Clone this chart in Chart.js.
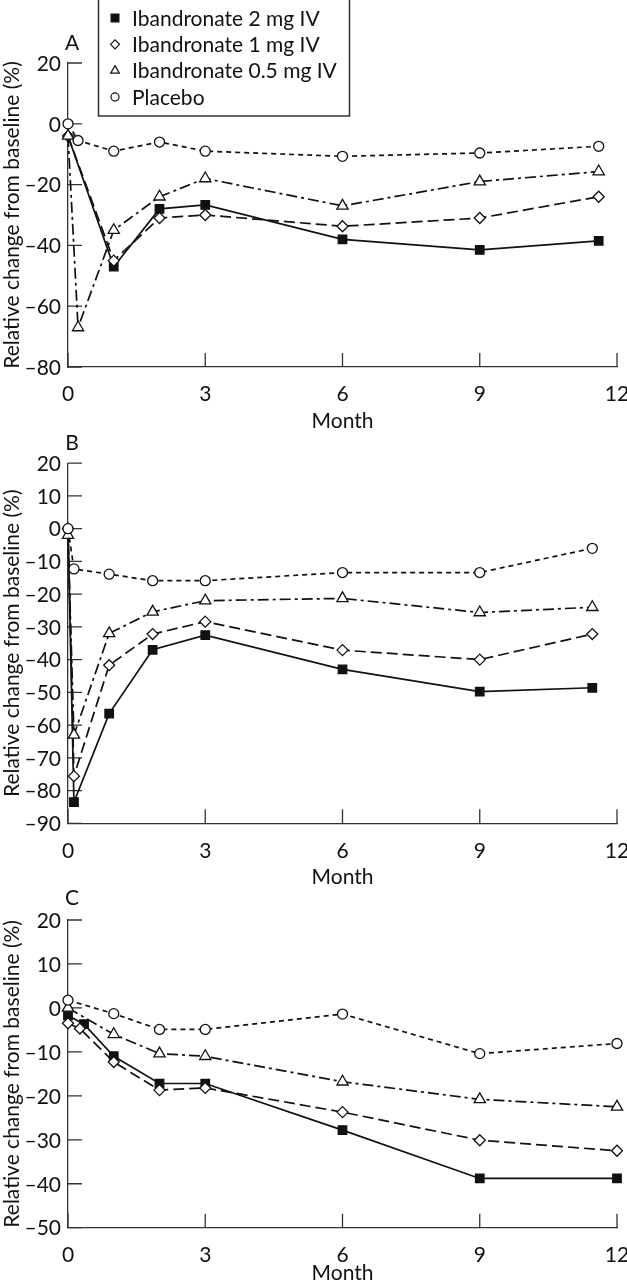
<!DOCTYPE html>
<html>
<head>
<meta charset="utf-8">
<script src="https://cdn.jsdelivr.net/npm/chart.js@4"></script>
<style>
html,body{margin:0;padding:0;background:#fff;overflow:hidden;width:627px;height:1280px;}
.panel{position:absolute;left:0;width:640px;}
</style>
</head>
<body>
<div class="panel" id="wrapA" style="top:0;height:440px"><canvas id="chartA"></canvas></div>
<div class="panel" id="wrapB" style="top:400px;height:490px"><canvas id="chartB"></canvas></div>
<div class="panel" id="wrapC" style="top:840px;height:450px"><canvas id="chartC"></canvas></div>
<script>
// ===== Data =====
const seriesNames=['Ibandronate 2 mg IV','Ibandronate 1 mg IV','Ibandronate 0.5 mg IV','Placebo'];

// Panel A
const monthsA2=[0,1,2,3,6,9,11.6];
const valuesA2=[-4,-47,-28,-26.7,-38,-41.5,-38.5];
const monthsA1=[0,1,2,3,6,9,11.6];
const valuesA1=[-4,-45,-31,-30,-33.7,-31,-24];
const monthsA05=[0,0.22,1,2,3,6,9,11.6];
const valuesA05=[-4,-67,-35,-24,-18,-27,-19,-15.7];
const monthsAP=[0,0.22,1,2,3,6,9,11.6];
const valuesAP=[0,-5.5,-9,-6,-9,-10.7,-9.6,-7.4];

// Panel B
const monthsB=[0,0.13,0.9,1.85,3,6,9,11.46];
const valuesB2=[0,-83.5,-56.5,-37,-32.5,-43,-49.8,-48.6];
const valuesB1=[0,-75.6,-41.7,-32.2,-28.4,-37.1,-40,-32.2];
const valuesB05=[-2,-63,-32,-25.4,-22,-21.3,-25.6,-24];
const valuesBP=[0,-12.3,-13.9,-15.9,-15.9,-13.4,-13.4,-6];

// Panel C
const monthsC2=[0,0.35,1,2,3,6,9,12];
const valuesC2=[-1.7,-3.7,-11,-17.2,-17.2,-27.8,-38.8,-38.8];
const monthsC1=[0,0.26,1,2,3,6,9,12];
const valuesC1=[-3.5,-4.7,-12.3,-18.7,-18.2,-23.7,-30.1,-32.5];
const monthsC05=[0,1,2,3,6,9,12];
const valuesC05=[0,-6,-10.4,-11,-16.8,-20.8,-22.5];
const monthsCP=[0,1,2,3,6,9,12];
const valuesCP=[1.75,-1.3,-4.9,-4.9,-1.4,-10.4,-8.1];

const xTicks=[0,3,6,9,12];

// ===== Styles =====
const INK='#111', AXIS='#333';
const FONT='Lato, "Noto Sans", sans-serif';
Chart.defaults.font.family=FONT;
Chart.defaults.font.size=21;
Chart.defaults.color='#111';

const styles=[
  {borderDash:[],pointStyle:'rect',r:6,fill:INK},
  {borderDash:[11,5],pointStyle:'rectRot',r:5.5,fill:'#fff'},
  {borderDash:[11,4,3,4],pointStyle:'triangle',r:6.5,fill:'#fff'},
  {borderDash:[5,4],pointStyle:'circle',r:5,fill:'#fff'}
];

function pts(xs,ys){return xs.map((x,i)=>({x:x,y:ys[i]}));}

function ds(i,xs,ys,hideFirst){
  const s=styles[i];
  return {
    label:seriesNames[i],
    data:pts(xs,ys),
    borderColor:INK,borderWidth:1.7,borderDash:s.borderDash,
    pointStyle:s.pointStyle,
    pointRadius:xs.map((x,k)=>(hideFirst&&k===0)?0:s.r),
    pointBackgroundColor:s.fill,pointBorderColor:INK,pointBorderWidth:1.3,
    tension:0,clip:false,order:i===0?4:3-i
  };
}

// ===== Plugins =====
// inward tick marks + y tick labels (drawn from the y scale's own ticks)
const inwardTicks={
  id:'inwardTicks',
  beforeDatasetsDraw(chart){
    const {ctx,chartArea:a,scales:{x,y}}=chart;
    ctx.save();ctx.strokeStyle=AXIS;ctx.lineWidth=1.3;ctx.setLineDash([]);ctx.beginPath();
    y.ticks.forEach(t=>{const py=y.getPixelForValue(t.value);ctx.moveTo(a.left,py);ctx.lineTo(a.left+14,py);});
    x.ticks.forEach(t=>{const px=x.getPixelForValue(t.value);ctx.moveTo(px,a.bottom);ctx.lineTo(px,a.bottom-14);});
    ctx.stroke();
    ctx.fillStyle='#111';ctx.font='21px '+FONT;ctx.textAlign='right';ctx.textBaseline='middle';
    y.ticks.forEach(t=>{
      const py=y.getPixelForValue(t.value);
      const txt=t.value<0?'\u2013'+Math.abs(t.value):String(t.value);
      ctx.fillText(txt,a.left-7,py+1);
    });
    ctx.restore();
  }
};

const panelLabel={
  id:'panelLabel',
  afterDraw(chart,args,opts){
    const {ctx,chartArea:a}=chart;
    ctx.save();ctx.font='21px '+FONT;ctx.fillStyle='#111';
    ctx.textAlign='center';ctx.textBaseline='middle';
    ctx.fillText(opts.text,a.left+4,a.top-opts.dy);
    ctx.restore();
  }
};

const boxLegend={
  id:'boxLegend',
  afterDraw(chart,args,opts){
    if(!opts.show) return;
    const ctx=chart.ctx;
    ctx.save();
    ctx.fillStyle='#fff';ctx.fillRect(98,-1,252,117);
    ctx.strokeStyle=AXIS;ctx.lineWidth=1.5;ctx.strokeRect(98.5,-1,251,117);
    const legR=[5.5,4.5,5,4];
    chart.data.datasets.forEach((d,i)=>{
      const yy=18+i*26.3;
      ctx.fillStyle=styles[i].fill;ctx.strokeStyle=INK;ctx.lineWidth=1.2;ctx.setLineDash([]);
      Chart.helpers.drawPoint(ctx,{pointStyle:styles[i].pointStyle,radius:legR[i],rotation:0,borderWidth:1.2},115,yy);
      ctx.fillStyle='#111';ctx.font='21px '+FONT;
      ctx.textAlign='left';ctx.textBaseline='middle';
      ctx.fillText(d.label,132,yy+1);
    });
    ctx.restore();
  }
};

function makeChart(id,datasets,cfg){
  return new Chart(document.getElementById(id),{
    type:'line',
    data:{datasets:datasets},
    options:{
      responsive:true,maintainAspectRatio:false,animation:false,
      layout:{padding:{top:cfg.padTop,right:23,left:0,bottom:0}},
      plugins:{legend:{display:false},tooltip:{enabled:false},
        panelLabel:{text:cfg.label,dy:cfg.labelDy},boxLegend:{show:!!cfg.legend}},
      scales:{
        x:{type:'linear',min:0,max:12,
          afterBuildTicks(s){s.ticks=xTicks.map(v=>({value:v}));},
          afterFit(s){s.height=cfg.xH;},
          grid:{display:false},border:{display:true,color:AXIS,width:1.3},
          ticks:{padding:7,maxRotation:0,autoSkip:false},
          title:{display:true,text:'Month',padding:{top:0,bottom:cfg.titlePb}}},
        y:{type:'linear',min:cfg.yMin,max:cfg.yMax,
          afterFit(s){s.width=68;},
          grid:{display:false},border:{display:true,color:AXIS,width:1.3},
          ticks:{stepSize:cfg.yStep,display:false},
          title:{display:true,text:'Relative change from baseline (%)',font:{size:21},padding:{top:0,bottom:0}}}
      }
    },
    plugins:[inwardTicks,panelLabel,boxLegend]
  });
}

makeChart('chartA',[
  ds(0,monthsA2,valuesA2,true),ds(1,monthsA1,valuesA1),ds(2,monthsA05,valuesA05),ds(3,monthsAP,valuesAP)
],{padTop:63,xH:73,titlePb:6,yMin:-80,yMax:20,yStep:20,label:'A',labelDy:20,legend:true});

makeChart('chartB',[
  ds(0,monthsB,valuesB2,true),ds(1,monthsB,valuesB1),ds(2,monthsB,valuesB05),ds(3,monthsB,valuesBP)
],{padTop:63.2,xH:66.7,titlePb:0,yMin:-90,yMax:20,yStep:10,label:'B',labelDy:20});

makeChart('chartC',[
  ds(0,monthsC2,valuesC2),ds(1,monthsC1,valuesC1),ds(2,monthsC05,valuesC05),ds(3,monthsCP,valuesCP)
],{padTop:80,xH:62.3,titlePb:4,yMin:-50,yMax:20,yStep:10,label:'C',labelDy:22});
</script>
</body>
</html>
